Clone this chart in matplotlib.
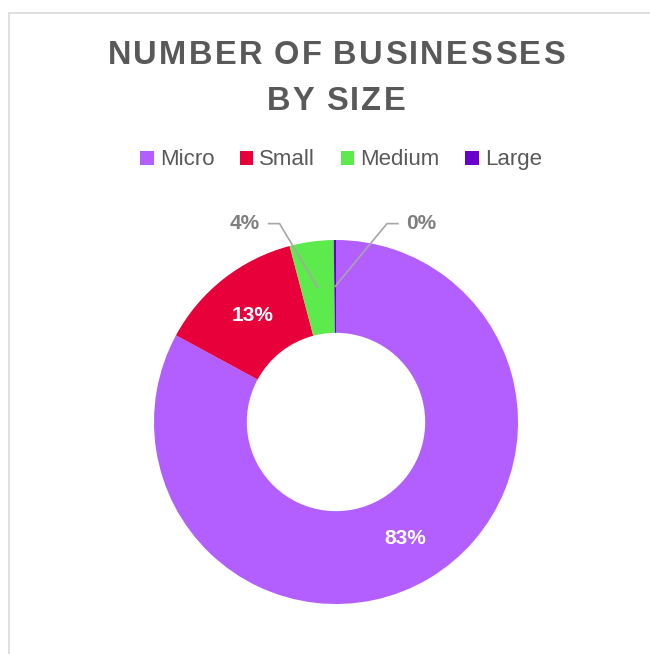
import matplotlib.pyplot as plt
import numpy as np
from matplotlib.patches import Patch, Rectangle
from matplotlib.font_manager import FontProperties

# data
categories = ["Micro", "Small", "Medium", "Large"]
shares = [82.9, 13.0, 3.9, 0.2]
colors = ["#B35FFF", "#E8003A", "#5CEA4C", "#6A00CC"]
title_lines = ["NUMBER OF BUSINESSES", "BY SIZE"]

plt.rcParams['font.family'] = ['Liberation Sans', 'DejaVu Sans']

W, H = 650, 654
fig = plt.figure(figsize=(6.5, 6.54), dpi=100)

# chart frame (only top/left edges visible in the crop)
fig.patches.append(Rectangle((9 / W, -0.1), 1.2, 1.1 - 13 / H, transform=fig.transFigure,
                             fill=False, edgecolor="#D9D9D9", linewidth=1.2))


def tracked_text(s, xc, y, prop, track, color):
    # matplotlib has no letter spacing, so place the letters one by one
    r = fig.canvas.get_renderer()

    def wid(t):
        return r.get_text_width_height_descent(t, prop, ismath=False)[0]

    space = wid("A A") - wid("AA")
    widths = [space if c == " " else wid(c) for c in s]
    total = sum(widths) + track * (len(s) - 1)
    x = xc - total / 2
    for c, w in zip(s, widths):
        if c != " ":
            fig.text(x / W, y, c, ha="left", va="baseline", fontproperties=prop, color=color)
        x += w + track


title_prop = FontProperties(family="Liberation Sans", weight="bold", size=23.5)
tracked_text(title_lines[0], 336, 1 - 64 / H, title_prop, 2.4, "#595959")
tracked_text(title_lines[1], 336, 1 - 110 / H, title_prop, 2.4, "#595959")

ax = fig.add_axes([(336 - 182) / W, (H - 604) / H, 364 / W, 364 / H])
wedges, _ = ax.pie(shares, colors=colors, startangle=90, counterclock=False,
                   radius=1, wedgeprops=dict(width=0.51, linewidth=0))
ax.set_xlim(-1, 1)
ax.set_ylim(-1, 1)
ax.set_aspect("equal")
ax.axis("off")

mid_r = 0.745
for w, val in zip(wedges, shares):
    ang = np.deg2rad((w.theta1 + w.theta2) / 2)
    x, y = mid_r * np.cos(ang), mid_r * np.sin(ang)
    txt = f"{round(val):d}%"
    if val >= 10:
        ax.text(x, y, txt, ha="center", va="center", color="white",
                fontsize=15, fontweight="bold")
    else:
        side = -1 if x < -0.01 else 1
        tx = -0.50 if side < 0 else 0.47
        elbow = -0.31 if side < 0 else 0.28
        ax.plot([tx - side * 0.13, elbow, x], [1.09, 1.09, y], color="#A6A6A6",
                linewidth=1.2, clip_on=False)
        ax.text(tx, 1.09, txt, ha="center", va="center", color="#7F7F7F",
                fontsize=15, fontweight="bold", clip_on=False)

handles = [Patch(facecolor=c, edgecolor="none", label=l) for c, l in zip(colors, categories)]
fig.legend(handles=handles, loc="center", bbox_to_anchor=(341 / W, 1 - 160 / H), ncol=4,
           frameon=False, fontsize=16, handlelength=0.6, handleheight=0.6,
           handletextpad=0.28, columnspacing=1.15, labelcolor="#595959")

fig.savefig("out.png", dpi=100)
